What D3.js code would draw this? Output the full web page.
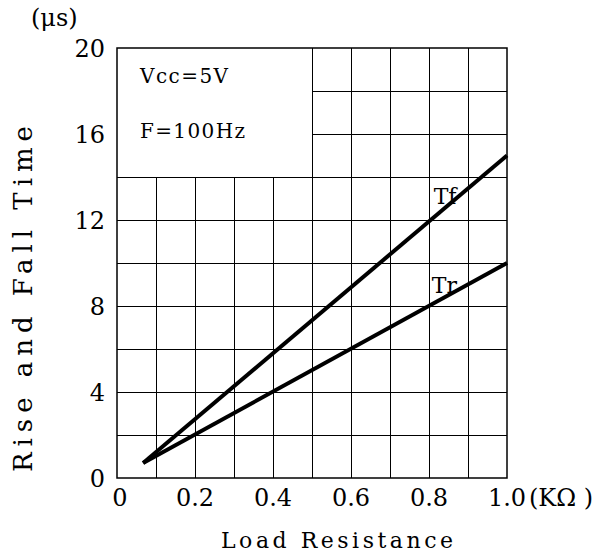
<!DOCTYPE html>
<html>
<head>
<meta charset="utf-8">
<script src="https://cdn.jsdelivr.net/npm/d3@7"></script>
<style>
  body { margin: 0; background: #fff; }
  text { font-family: "DejaVu Serif", "Liberation Serif", serif; fill: #000; }
</style>
</head>
<body>
<div id="graphic"></div>
<script>
(function() {
  var W = 603, H = 555;
  var margin = { top: 48, left: 117, right: 96, bottom: 77 },
  width = W - margin.left - margin.right,
  height = H - margin.top - margin.bottom;

  /*** DATA ***/
  var xTicks = [0, 0.2, 0.4, 0.6, 0.8, 1.0];
  var xTickLabels = ["0", "0.2", "0.4", "0.6", "0.8", "1.0"];
  var yTicks = [0, 4, 8, 12, 16, 20];
  var tfPoints = [{ r: 0.067, t: 0.7 }, { r: 1.0, t: 15 }];
  var trPoints = [{ r: 0.067, t: 0.7 }, { r: 1.0, t: 10 }];
  var conditions = ["Vcc=5V", "F=100Hz"];

  var svg = d3.select("#graphic")
        .append("svg")
        .attr("width", W)
        .attr("height", H)
        .append("g")
        .attr("transform", "translate(" + margin.left + "," + margin.top + ")");

  /*** SCALES ***/
  var x = d3.scaleLinear().domain([0, 1]).range([0, width]);
  var y = d3.scaleLinear().domain([0, 20]).range([height, 0]);

  /*** GRID ***/
  var grid = svg.append("g").attr("stroke", "#000").attr("stroke-width", 1).attr("shape-rendering", "crispEdges");
  // verticals: left half stops at 14 (conditions box above), right half full height
  d3.range(1, 10).forEach(function(i) {
    var v = i / 10;
    grid.append("line")
      .attr("x1", x(v)).attr("x2", x(v))
      .attr("y1", y(0)).attr("y2", v < 0.5 ? y(14) : y(20));
  });
  d3.range(2, 20, 2).forEach(function(t) {
    grid.append("line")
      .attr("x1", t > 14 ? x(0.5) : x(0)).attr("x2", x(1))
      .attr("y1", y(t)).attr("y2", y(t));
  });

  svg.append("rect")
    .attr("x", 0).attr("y", 0)
    .attr("width", width).attr("height", height)
    .attr("fill", "none").attr("stroke", "#000").attr("stroke-width", 1.5);

  /*** AXIS LABELS ***/
  svg.selectAll(".yTick")
    .data(yTicks).enter().append("text")
    .attr("class", "yTick")
    .attr("x", -12)
    .attr("y", function(d) { return y(d) + 9; })
    .attr("text-anchor", "end")
    .style("font-size", "24px")
    .text(function(d) { return d; });

  svg.selectAll(".xTick")
    .data(xTicks).enter().append("text")
    .attr("class", "xTick")
    .attr("x", function(d) { return x(d) + (d == 0 ? 3 : 0); })
    .attr("y", height + 28)
    .attr("text-anchor", "middle")
    .style("font-size", "24px")
    .text(function(d, i) { return xTickLabels[i]; });

  svg.append("text")
    .attr("x", x(1) + 22)
    .attr("y", height + 28)
    .style("font-size", "24px")
    .text("(K\u03A9 )");

  svg.append("text")
    .attr("x", width / 2 + 25)
    .attr("y", height + 70)
    .attr("text-anchor", "middle")
    .style("font-size", "22px")
    .attr("textLength", 232)
    .text("Load Resistance");

  svg.append("text")
    .attr("transform", "translate(-85," + (height / 2 + 36) + ") rotate(-90)")
    .attr("text-anchor", "middle")
    .style("font-size", "26px")
    .attr("textLength", 346)
    .text("Rise and Fall Time");

  svg.append("text")
    .attr("x", -86)
    .attr("y", -22)
    .style("font-size", "24px")
    .text("(\u03BCs)");

  /*** CONDITIONS ***/
  var condLen = [88, 105];
  svg.selectAll(".cond")
    .data(conditions).enter().append("text")
    .attr("class", "cond")
    .attr("x", 23)
    .attr("y", function(d, i) { return 35 + i * 55; })
    .style("font-size", "20px")
    .attr("textLength", function(d, i) { return condLen[i]; })
    .text(function(d) { return d; });

  /*** LINES ***/
  var line = d3.line()
    .x(function(d) { return x(d.r); })
    .y(function(d) { return y(d.t); });

  [tfPoints, trPoints].forEach(function(pts) {
    svg.append("path")
      .attr("d", line(pts))
      .attr("fill", "none")
      .attr("stroke", "#000")
      .attr("stroke-width", 4);
  });

  svg.append("text").attr("x", x(0.812)).attr("y", y(13.1) + 8)
    .style("font-size", "22px").text("Tf");
  svg.append("text").attr("x", x(0.807)).attr("y", y(9.0) + 8)
    .style("font-size", "22px").text("Tr");
})();
</script>
</body>
</html>
